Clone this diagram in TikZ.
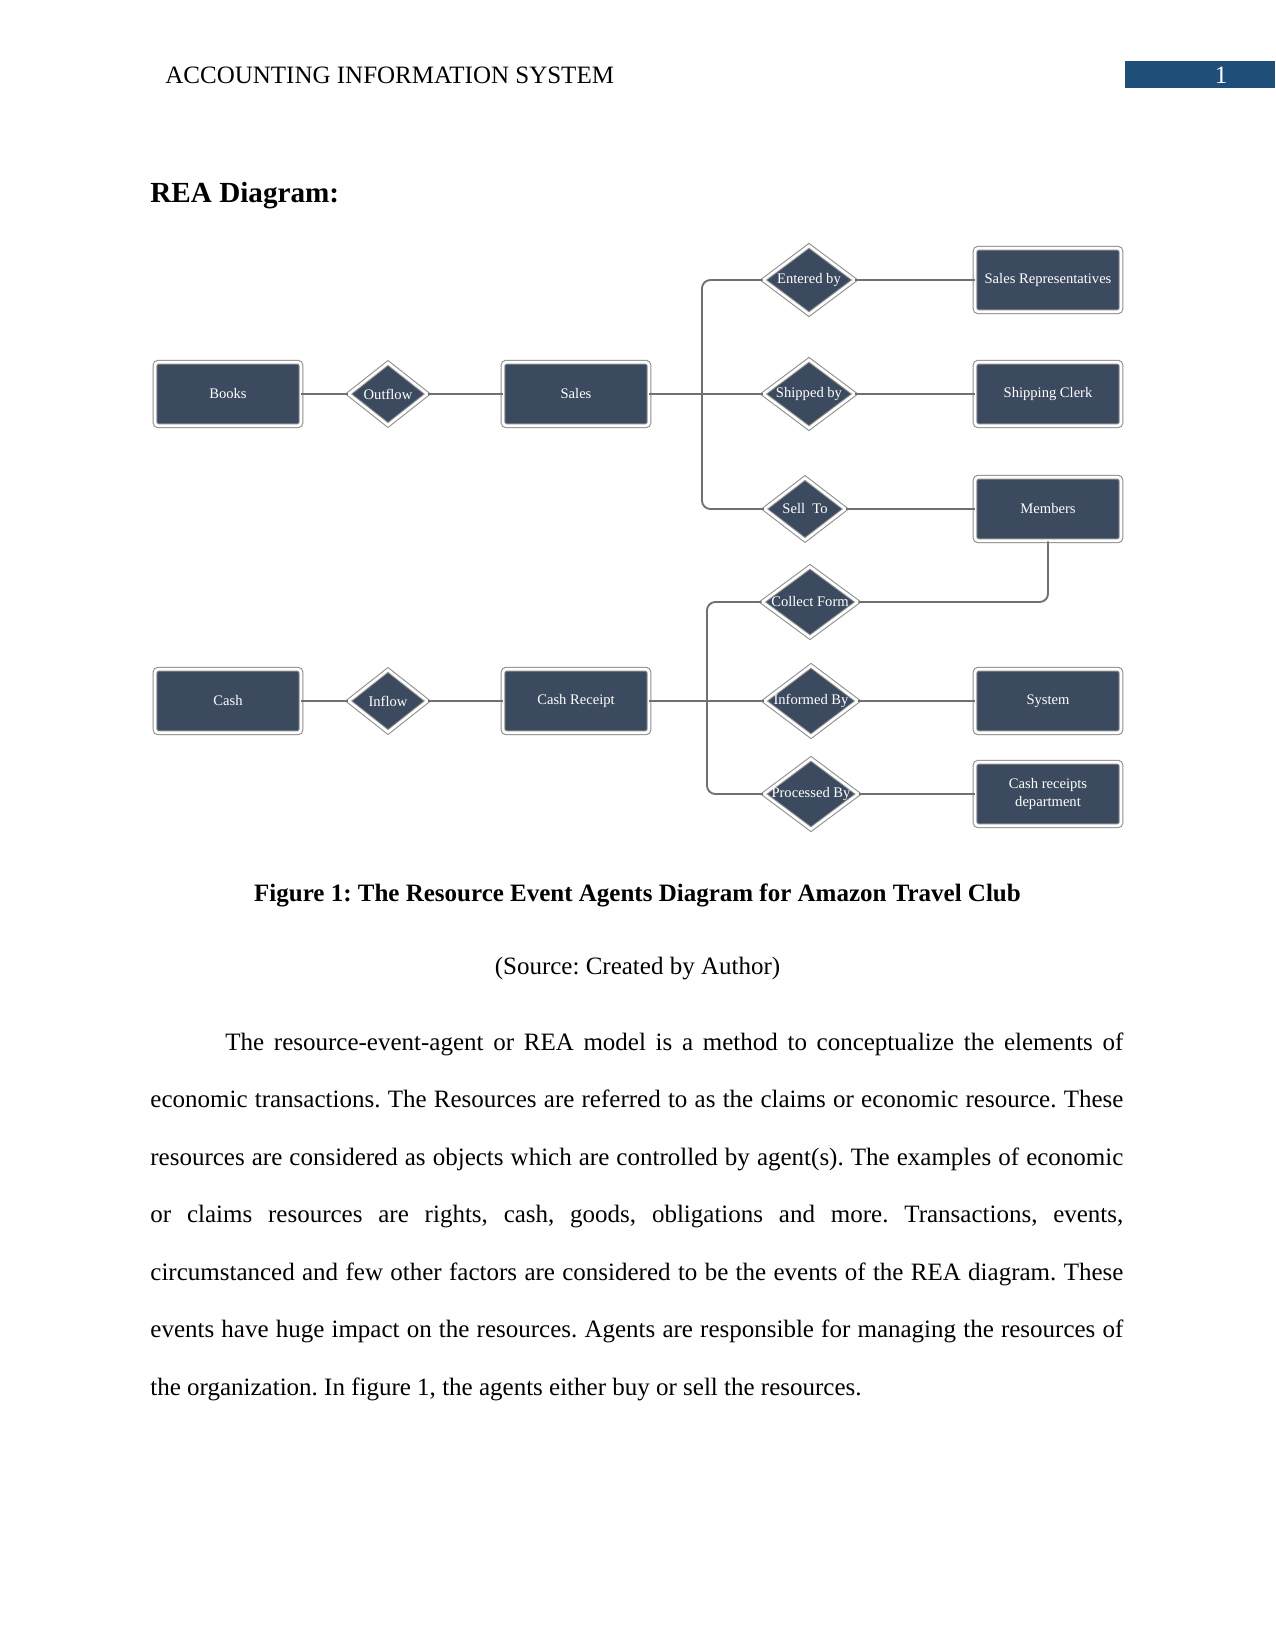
\documentclass[tikz,border=0pt]{standalone}
\usepackage{fontspec}
\setmainfont{Liberation Serif}
\usetikzlibrary{shapes.geometric}
\definecolor{boxfill}{RGB}{59,74,94}
\definecolor{edgegray}{RGB}{112,112,112}
\definecolor{hdrblue}{RGB}{31,78,121}
\frenchspacing
\begin{document}
\begin{tikzpicture}[x=0.48pt,y=-0.48pt,
  entity/.style={rectangle, fill=boxfill, draw=edgegray!80, double=white, double distance=1.3pt, line width=0.5pt, rounded corners=1.5pt, minimum width=70pt, minimum height=30.5pt, text=white, font=\fontsize{7}{8.5}\selectfont, align=center, inner sep=1pt},
  rel/.style={diamond, fill=boxfill, draw=edgegray!80, double=white, double distance=1.3pt, line width=0.5pt, inner sep=0pt},
  rtxt/.style={text=white, font=\fontsize{7}{8.5}\selectfont, inner sep=0pt},
  link/.style={draw=edgegray, line width=0.9pt},
  body/.style={anchor=base west, inner sep=0pt, font=\fontsize{12}{14}\selectfont}]
\fill[white] (0,0) rectangle (1275,1650);
\useasboundingbox (0,0) rectangle (1275,1650);

% header
\node[anchor=base west, inner sep=0pt, font=\fontsize{12}{14}\selectfont] (hdr) at (165,84) {ACCOUNTING INFORMATION SYSTEM};
\fill[hdrblue] (1125,61) rectangle (1275,88);
\node[anchor=base, inner sep=0pt, text=white, font=\fontsize{12}{14}\selectfont] (pgno) at (1221,84) {1};

\node[anchor=base west, inner sep=0pt, font=\fontsize{14}{16}\selectfont\bfseries] (title) at (150,203) {REA Diagram:};

% sales part
\node[entity] (books) at (228,394) {Books};
\node[rel, minimum width=38pt, minimum height=30pt, label={[rtxt]center:Outflow}] (outflow) at (388,394) {};
\node[entity] (sales) at (576,394) {Sales};
\node[rel, minimum width=44pt, minimum height=33pt, label={[rtxt]center:Entered by}] (entered) at (809,280) {};
\node[rel, minimum width=44pt, minimum height=33pt, label={[rtxt]center:Shipped by}] (shipped) at (809,394) {};
\node[rel, minimum width=39pt, minimum height=30pt, label={[rtxt]center:Sell\ \ To}] (sellto) at (805,509) {};
\node[entity] (salesrep) at (1048,280) {Sales Representatives};
\node[entity] (clerk) at (1048,394) {Shipping Clerk};
\node[entity] (members) at (1048,509) {Members};

% cash part
\node[entity] (cash) at (228,701) {Cash};
\node[rel, minimum width=38pt, minimum height=30pt, label={[rtxt]center:Inflow}] (inflow) at (388,701) {};
\node[entity] (cashreceipt) at (576,701) {Cash Receipt};
\node[rel, minimum width=46pt, minimum height=34pt, label={[rtxt]center:Collect Form}] (collect) at (810,602) {};
\node[rel, minimum width=45pt, minimum height=34pt, label={[rtxt]center:Informed By}] (informed) at (811,701) {};
\node[rel, minimum width=45.5pt, minimum height=34pt, label={[rtxt]center:Processed By}] (processed) at (811,794) {};
\node[entity] (system) at (1048,701) {System};
\node[entity] (crd) at (1048,794) {Cash receipts\\department};

\coordinate (sj) at (702,394);
\coordinate (cj) at (707,701);

% connectors
\draw[link] (books) -- (outflow);
\draw[link] (outflow) -- (sales);
\draw[link] (sales) -- (shipped);
\draw[link, rounded corners=4pt] (entered.west) -| (sj) |- (sellto.west);
\draw[link] (entered) -- (salesrep);
\draw[link] (shipped) -- (clerk);
\draw[link] (sellto) -- (members);
\draw[link, rounded corners=4pt] (members.south) |- (collect.east);
\draw[link] (cash) -- (inflow);
\draw[link] (inflow) -- (cashreceipt);
\draw[link] (cashreceipt) -- (informed);
\draw[link, rounded corners=4pt] (collect.west) -| (cj) |- (processed.west);
\draw[link] (informed) -- (system);
\draw[link] (processed) -- (crd);

% caption
\node[anchor=base, inner sep=0pt, font=\fontsize{12}{14}\selectfont\bfseries] (cap) at (637.5,901) {Figure 1: The Resource Event Agents Diagram for Amazon Travel Club};
\node[anchor=base, inner sep=0pt, font=\fontsize{12}{14}\selectfont] (src) at (637.5,974) {(Source: Created by Author)};

% body text
\node[body] (l1) at (225,1050) {\makebox[431pt][s]{The resource-event-agent or REA model is a method to conceptualize the elements of}};
\node[body] (l2) at (150,1107.5) {\makebox[467pt][s]{economic transactions. The Resources are referred to as the claims or economic resource. These}};
\node[body] (l3) at (150,1165) {\makebox[467pt][s]{resources are considered as objects which are controlled by agent(s). The examples of economic}};
\node[body] (l4) at (150,1222.5) {\makebox[467pt][s]{or claims resources are rights, cash, goods, obligations and more. Transactions, events,}};
\node[body] (l5) at (150,1280) {\makebox[467pt][s]{circumstanced and few other factors are considered to be the events of the REA diagram. These}};
\node[body] (l6) at (150,1337.5) {\makebox[467pt][s]{events have huge impact on the resources. Agents are responsible for managing the resources of}};
\node[body] (l7) at (150,1395) {the organization. In figure 1, the agents either buy or sell the resources.};
\end{tikzpicture}
\end{document}
